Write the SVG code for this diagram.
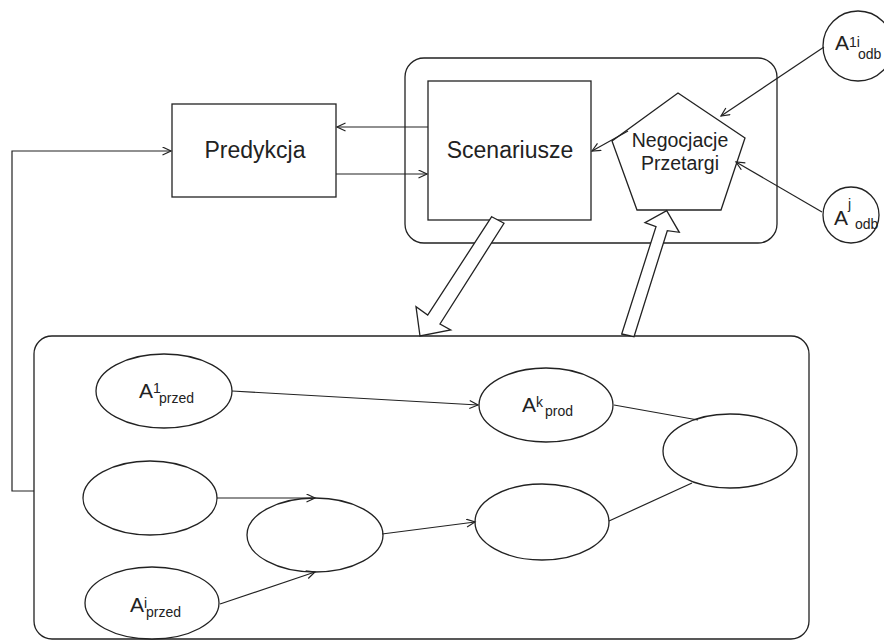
<svg xmlns="http://www.w3.org/2000/svg" width="884" height="642" viewBox="0 0 884 642">
<style>
.s{fill:#fff;stroke:#222;stroke-width:1.3}
.c{fill:none;stroke:#222;stroke-width:1.2}
.t{font-family:"Liberation Sans",Arial,sans-serif;fill:#222}
.big{font-size:23px}
.mid{font-size:19.5px}
.a{font-size:21px}
.sm{font-size:14px}
</style>
<defs>
<marker id="ar" markerUnits="userSpaceOnUse" markerWidth="12" markerHeight="12" refX="9" refY="4.5" orient="auto">
<path d="M0.5,0.5 L9,4.5 L0.5,8.5" fill="none" stroke="#222" stroke-width="1.2"/>
</marker>
</defs>
<rect width="884" height="642" fill="#fff"/>

<g id="top-container"><rect class="s" x="405" y="58" width="372" height="185" rx="19"/></g>
<g id="bottom-container"><rect class="s" x="34" y="336" width="775" height="303" rx="18"/></g>

<g id="predykcja"><rect class="s" x="172" y="104" width="164" height="93"/>
<text class="t big" x="255" y="158" text-anchor="middle">Predykcja</text></g>

<g id="scenariusze"><rect class="s" x="428" y="81" width="163" height="139"/>
<text class="t big" x="510" y="158" text-anchor="middle">Scenariusze</text></g>

<g id="negocjacje"><polygon class="s" points="678,93 745,138 721,210 637,210 612,141"/>
<text class="t mid" x="680" y="147" text-anchor="middle">Negocjacje</text>
<text class="t mid" x="680" y="170" text-anchor="middle">Przetargi</text></g>

<g id="a1i-odb"><circle class="s" cx="858" cy="46" r="35"/>
<text class="t a" x="835" y="50">A</text><text class="t sm" x="849" y="47">1i</text><text class="t sm" x="858" y="59">odb</text></g>

<g id="aj-odb"><circle class="s" cx="851" cy="215" r="28"/>
<text class="t a" x="834" y="225">A</text><text class="t sm" x="848" y="209">j</text><text class="t sm" x="855" y="229">odb</text></g>

<g id="a1-przed"><ellipse class="s" cx="164" cy="391" rx="68" ry="37"/>
<text class="t a" x="139" y="398">A</text><text class="t sm" x="153" y="393">1</text><text class="t sm" x="159" y="403">przed</text></g>

<g id="e2"><ellipse class="s" cx="150" cy="498" rx="67" ry="37"/></g>

<g id="ai-przed"><ellipse class="s" cx="152" cy="603" rx="67" ry="36"/>
<text class="t a" x="130" y="612">A</text><text class="t sm" x="144" y="608">i</text><text class="t sm" x="146" y="617">przed</text></g>

<g id="e4"><ellipse class="s" cx="315" cy="535" rx="68" ry="37"/></g>
<g id="e5"><ellipse class="s" cx="542" cy="522" rx="67" ry="38"/></g>

<g id="ak-prod"><ellipse class="s" cx="546" cy="405" rx="67" ry="37"/>
<text class="t a" x="522" y="412">A</text><text class="t sm" x="536" y="407">k</text><text class="t sm" x="545" y="416">prod</text></g>

<g id="e7"><ellipse class="s" cx="730" cy="451" rx="67" ry="37"/></g>

<g id="connectors">
<line class="c" x1="428" y1="127" x2="337" y2="127" marker-end="url(#ar)"/>
<line class="c" x1="336" y1="174" x2="427" y2="174" marker-end="url(#ar)"/>
<polyline class="c" points="34,491 12,491 12,151 171,151" marker-end="url(#ar)"/>
<line class="c" x1="628" y1="131" x2="592" y2="151" marker-end="url(#ar)"/>
<line class="c" x1="824" y1="47" x2="721" y2="116" marker-end="url(#ar)"/>
<line class="c" x1="822" y1="212" x2="736" y2="162" marker-end="url(#ar)"/>
<line class="c" x1="232" y1="391" x2="478" y2="405" marker-end="url(#ar)"/>
<line class="c" x1="217" y1="498" x2="315" y2="498" marker-end="url(#ar)"/>
<line class="c" x1="220" y1="604" x2="315" y2="572" marker-end="url(#ar)"/>
<line class="c" x1="382" y1="534" x2="475" y2="522" marker-end="url(#ar)"/>
<line class="c" x1="614" y1="405" x2="698" y2="420"/>
<line class="c" x1="609" y1="521" x2="692" y2="483"/>
<polygon class="s" points="491.7,216.7 504,223.3 440,324 450.7,330 420,336 416,306.7 427.7,315"/>
<polygon class="s" points="621.7,334 634,336.7 667.3,230.7 679.3,232.3 666.7,210.7 645,222.7 656,226.7"/>
</g>
</svg>
